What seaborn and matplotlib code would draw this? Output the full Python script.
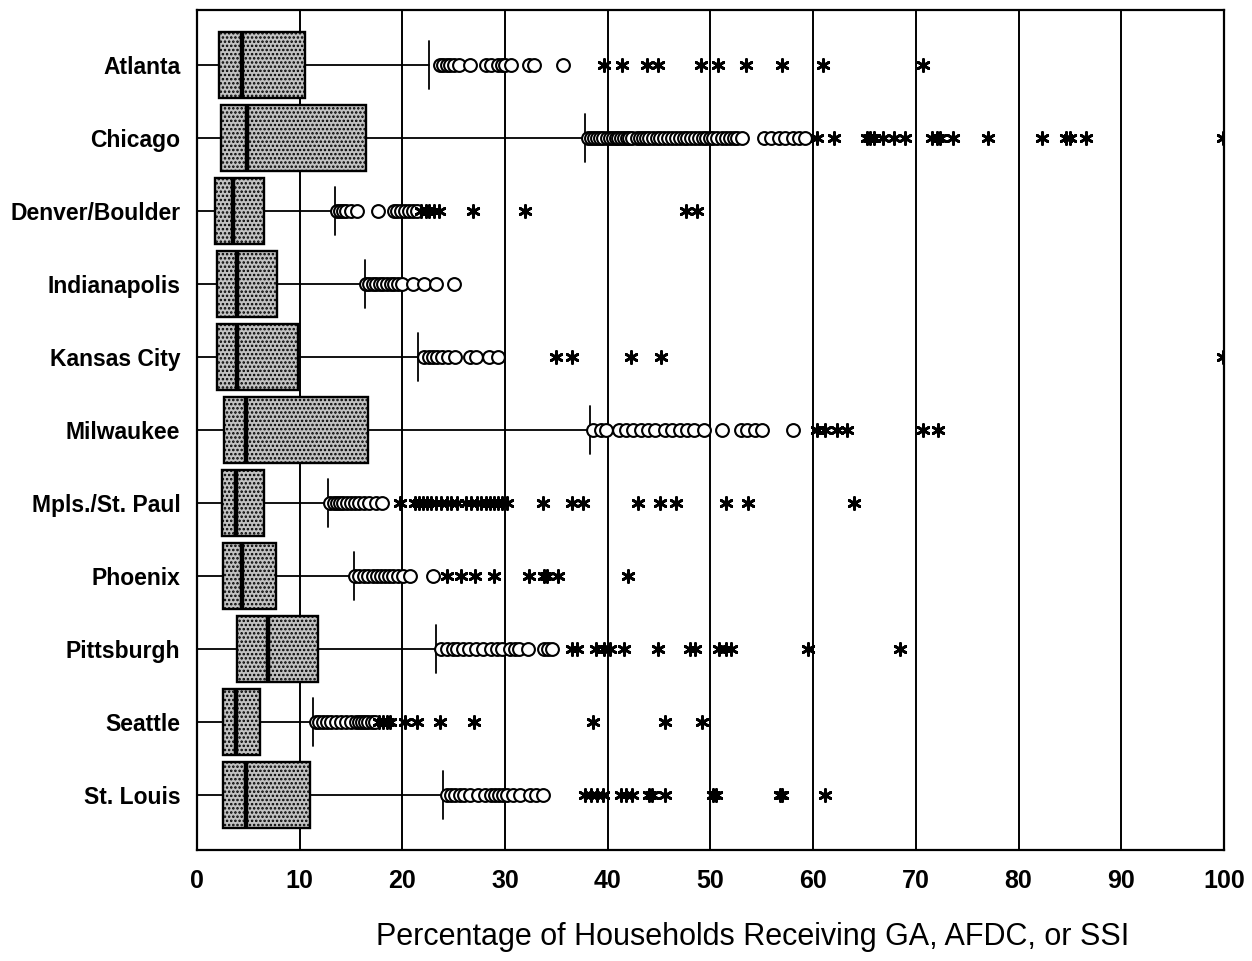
import matplotlib
matplotlib.use("Agg")
import matplotlib.pyplot as plt
import numpy as np
import pandas as pd
import seaborn as sns

# Cities, top to bottom
cities = [
    "Atlanta", "Chicago", "Denver/Boulder", "Indianapolis", "Kansas City",
    "Milwaukee", "Mpls./St. Paul", "Phoenix", "Pittsburgh", "Seattle", "St. Louis",
]

# Box summary (percent of households)
whisker_lo = [0, 0, 0, 0, 0, 0, 0, 0, 0, 0, 0]
q1 = [2.1, 2.3, 1.8, 2.0, 2.0, 2.6, 2.4, 2.5, 3.9, 2.5, 2.5]
median = [4.4, 4.9, 3.5, 3.9, 3.9, 4.8, 3.8, 4.4, 6.9, 3.8, 4.8]
q3 = [10.5, 16.5, 6.5, 7.8, 9.8, 16.7, 6.5, 7.7, 11.8, 6.1, 11.0]
whisker_hi = [22.6, 37.8, 13.4, 16.4, 21.5, 38.3, 12.8, 15.3, 23.3, 11.3, 24.0]

# Outliers (circles) and extreme values (asterisks)
atlanta_out = [23.7, 24.0, 24.3, 24.6, 25.0, 25.5, 26.6, 28.1, 28.6, 29.3, 29.7, 30.0, 30.6, 32.3, 32.8, 35.6]
atlanta_ext = [39.6, 41.4, 43.8, 44.9, 49.1, 50.7, 53.5, 57.0, 61.0, 70.7]
chicago_out = [38.1, 38.4, 38.7, 39.0, 39.2, 39.5, 39.9, 40.2, 40.5, 40.8, 41.0, 41.3, 41.6, 41.9,
               42.1, 42.4, 42.8, 43.1, 43.4, 43.7, 44.0, 44.4, 44.8, 45.1, 45.5, 45.9, 46.3, 46.6,
               47.0, 47.4, 47.7, 48.1, 48.5, 48.9, 49.3, 49.6, 50.0, 50.2, 50.6, 51.1, 51.5, 51.9,
               52.3, 52.6, 53.1, 55.2, 55.9, 56.7, 57.3, 58.0, 58.6, 59.2]
chicago_ext = [60.4, 62.0, 65.2, 65.5, 65.9, 66.8, 67.9, 68.9, 71.6, 72.1, 72.4, 73.6, 77.0,
               82.3, 84.6, 85.0, 86.6, 99.9]
denver_out = [13.6, 13.9, 14.2, 14.5, 15.0, 15.6, 17.6, 19.2, 19.5, 19.9, 20.3, 20.6, 21.0, 21.4]
denver_ext = [21.8, 22.3, 22.6, 23.1, 23.6, 26.9, 31.9, 47.6, 48.7]
indy_out = [16.5, 16.8, 17.1, 17.4, 17.8, 18.1, 18.5, 18.9, 19.2, 19.6, 20.0, 21.0, 22.1, 23.3, 25.0]
indy_ext = []
kc_out = [22.1, 22.6, 23.0, 23.4, 23.9, 24.4, 25.1, 26.6, 27.2, 28.4, 29.3]
kc_ext = [35.0, 36.5, 42.3, 45.2, 99.9]
milw_out = [38.6, 39.3, 39.8, 41.1, 41.8, 42.5, 43.2, 43.9, 44.6, 45.6, 46.3, 47.0, 47.7, 48.4,
            49.4, 51.1, 53.0, 53.6, 54.3, 55.0, 58.0]
milw_ext = [60.4, 61.2, 62.3, 63.3, 70.7, 72.2]
mpls_out = [13.0, 13.3, 13.6, 13.9, 14.2, 14.6, 15.0, 15.4, 15.8, 16.3, 16.8, 17.4, 18.0]
mpls_ext = [19.8, 21.2, 21.6, 22.0, 22.4, 22.8, 23.3, 23.8, 24.3, 24.7, 25.3, 26.2, 26.7, 27.3,
            27.7, 28.1, 28.5, 28.9, 29.3, 29.7, 30.2, 33.7, 36.5, 37.6, 42.9, 45.1, 46.6, 51.5,
            53.7, 64.0]
phx_out = [15.4, 15.8, 16.3, 16.7, 17.1, 17.5, 17.9, 18.3, 18.7, 19.1, 19.6, 20.1, 20.7, 23.0]
phx_ext = [24.3, 25.7, 27.1, 28.9, 32.3, 33.8, 34.1, 35.2, 42.0]
pitt_out = [23.8, 24.3, 24.9, 25.3, 25.9, 26.5, 27.2, 27.9, 28.6, 29.2, 29.7, 30.5, 31.0, 31.4,
            32.2, 33.8, 34.2, 34.6]
pitt_ext = [36.5, 37.0, 38.9, 39.6, 40.2, 41.6, 44.9, 48.0, 48.5, 50.8, 51.5, 52.0, 59.5, 68.5]
sea_out = [11.6, 11.9, 12.3, 12.7, 13.1, 13.5, 14.0, 14.5, 15.0, 15.5, 15.8, 16.1, 16.4, 16.7,
           17.0, 17.3]
sea_ext = [17.7, 18.1, 18.5, 18.8, 20.3, 21.4, 23.7, 27.0, 38.6, 45.6, 49.2]
stl_out = [24.3, 24.7, 25.1, 25.6, 26.0, 26.6, 27.4, 28.0, 28.6, 29.0, 29.4, 29.8, 30.2, 30.8,
           31.5, 32.4, 33.0, 33.7]
stl_ext = [37.8, 38.4, 39.0, 39.5, 41.3, 41.8, 42.4, 44.0, 44.3, 45.6, 50.2, 50.5, 56.8, 57.0, 61.2]

outliers = [atlanta_out, chicago_out, denver_out, indy_out, kc_out, milw_out,
            mpls_out, phx_out, pitt_out, sea_out, stl_out]
extremes = [atlanta_ext, chicago_ext, denver_ext, indy_ext, kc_ext, milw_ext,
            mpls_ext, phx_ext, pitt_ext, sea_ext, stl_ext]

x_ticks = [0, 10, 20, 30, 40, 50, 60, 70, 80, 90, 100]


def main() -> None:
    # Long-form table of the individual points
    rows = []
    for i, city in enumerate(cities):
        rows += [(city, i, v, "outlier") for v in outliers[i]]
        rows += [(city, i, v, "extreme") for v in extremes[i]]
    points = pd.DataFrame(rows, columns=["city", "pos", "value", "kind"])

    sns.set_theme(style="white")
    plt.rcParams["font.family"] = ["Liberation Sans", "DejaVu Sans"]
    plt.rcParams["hatch.linewidth"] = 1.2

    fig = plt.figure(figsize=(12.52, 9.61), dpi=100)
    ax = fig.add_axes([0.1573, 0.1155, 0.8203, 0.8741])

    # Boxes from summary statistics
    stats = [
        dict(whislo=whisker_lo[i], q1=q1[i], med=median[i], q3=q3[i],
             whishi=whisker_hi[i], fliers=[], label=cities[i])
        for i in range(len(cities))
    ]
    ax.bxp(
        stats,
        positions=range(len(cities)),
        widths=0.9,
        capwidths=0.66,
        orientation="horizontal",
        patch_artist=True,
        showfliers=False,
        boxprops=dict(facecolor="#c2c2c2", edgecolor="black", linewidth=1.7, hatch="...."),
        medianprops=dict(color="black", linewidth=3.2),
        whiskerprops=dict(color="black", linewidth=1.3),
        capprops=dict(color="black", linewidth=1.3),
        zorder=3,
    )

    # Outliers and extremes
    sns.scatterplot(
        data=points[points["kind"] == "outlier"], x="value", y="pos", ax=ax,
        marker="o", s=85, facecolor="white", edgecolor="black", linewidth=1.5,
        zorder=4, legend=False,
    )
    sns.scatterplot(
        data=points[points["kind"] == "extreme"], x="value", y="pos", ax=ax,
        marker=(6, 2, 0), s=75, color="black", linewidth=2.0,
        zorder=5, legend=False,
    )

    ax.set_xlim(0, 100)
    ax.set_ylim(len(cities) - 0.25, -0.75)
    ax.set_xticks(x_ticks)
    ax.set_xticklabels([str(t) for t in x_ticks], fontsize=18, fontweight="bold")
    ax.set_yticks(range(len(cities)))
    ax.set_yticklabels(cities, fontsize=16.5, fontweight="bold")
    ax.tick_params(axis="x", length=0, pad=14, colors="black")
    ax.tick_params(axis="y", length=0, pad=12, colors="black")
    ax.grid(axis="x", color="black", linewidth=1.4)
    ax.grid(axis="y", visible=False)
    ax.set_axisbelow(True)
    for spine in ax.spines.values():
        spine.set_color("black")
        spine.set_linewidth(1.6)

    ax.set_ylabel("")
    ax.set_xlabel("Percentage of Households Receiving GA, AFDC, or SSI",
                  fontsize=22, color="black")
    ax.xaxis.set_label_coords(0.541, -0.086)

    fig.savefig("out.png", dpi=100)
    plt.close(fig)


if __name__ == "__main__":
    main()
